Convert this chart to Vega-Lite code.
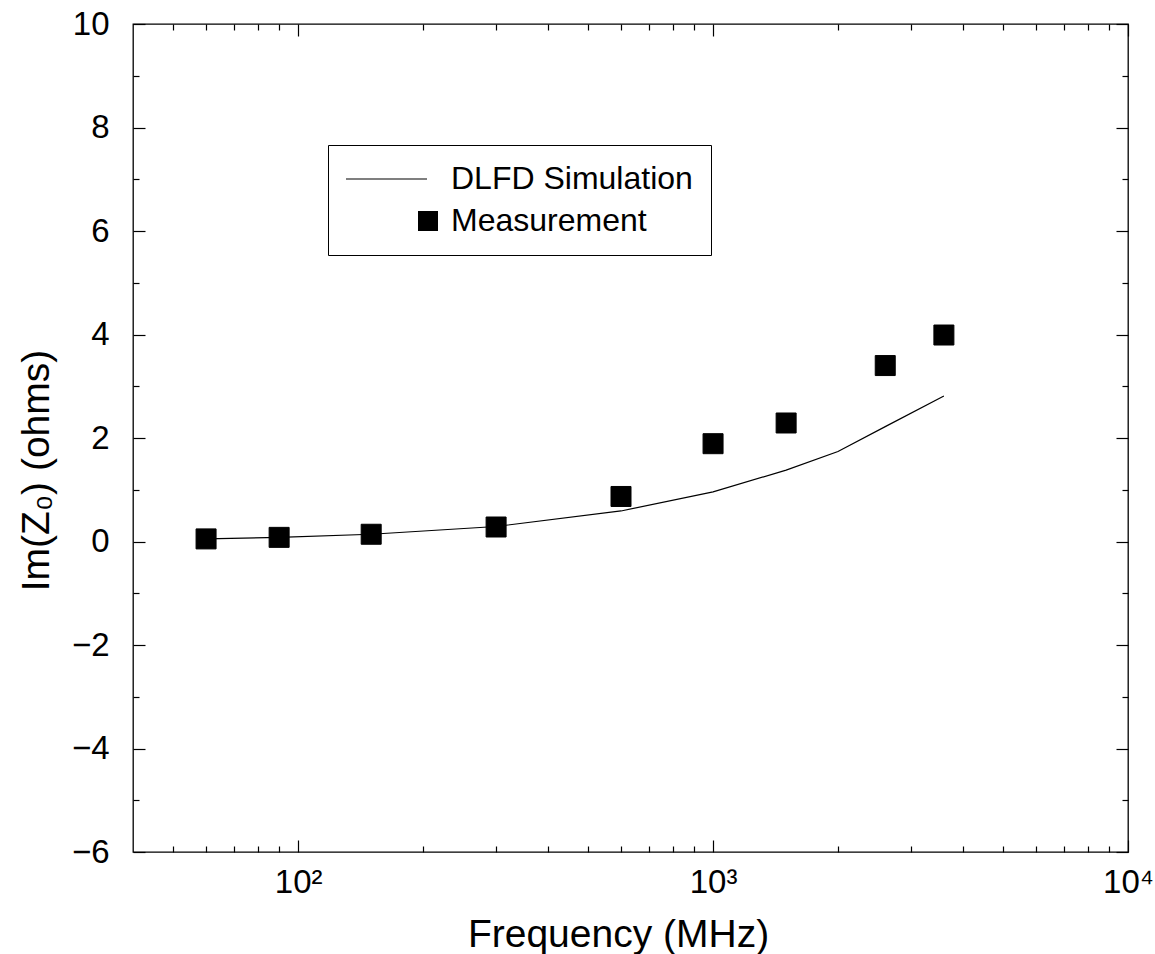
{
  "$schema": "https://vega.github.io/schema/vega-lite/v6.json",
  "width": 995,
  "height": 828,
  "autosize": "none",
  "padding": {"left": 133, "top": 24, "right": 27, "bottom": 102},
  "background": "white",
  "config": {
    "font": "Liberation Sans",
    "view": {"stroke": "black", "strokeWidth": 1.3},
    "axis": {
      "grid": false,
      "domain": false,
      "tickColor": "black",
      "tickWidth": 1.2,
      "labelFont": "Liberation Sans",
      "labelFontSize": 33,
      "labelColor": "black",
      "labelFlush": false,
      "labelOverlap": false,
      "titleFont": "Liberation Sans",
      "titleFontSize": 39,
      "titleFontWeight": "normal",
      "titleColor": "black"
    }
  },
  "datasets": {
    "sim": [
      {"freq": 60, "im": 0.05, "series": "DLFD Simulation"},
      {"freq": 90, "im": 0.08, "series": "DLFD Simulation"},
      {"freq": 150, "im": 0.14, "series": "DLFD Simulation"},
      {"freq": 300, "im": 0.29, "series": "DLFD Simulation"},
      {"freq": 600, "im": 0.59, "series": "DLFD Simulation"},
      {"freq": 1000, "im": 0.96, "series": "DLFD Simulation"},
      {"freq": 1500, "im": 1.38, "series": "DLFD Simulation"},
      {"freq": 2000, "im": 1.74, "series": "DLFD Simulation"},
      {"freq": 2600, "im": 2.22, "series": "DLFD Simulation"},
      {"freq": 3600, "im": 2.81, "series": "DLFD Simulation"}
    ],
    "meas": [
      {"freq": 60, "im": 0.05, "series": "Measurement"},
      {"freq": 90, "im": 0.08, "series": "Measurement"},
      {"freq": 150, "im": 0.14, "series": "Measurement"},
      {"freq": 300, "im": 0.28, "series": "Measurement"},
      {"freq": 600, "im": 0.87, "series": "Measurement"},
      {"freq": 1000, "im": 1.89, "series": "Measurement"},
      {"freq": 1500, "im": 2.29, "series": "Measurement"},
      {"freq": 2600, "im": 3.4, "series": "Measurement"},
      {"freq": 3600, "im": 3.99, "series": "Measurement"}
    ]
  },
  "layer": [
    {
      "data": {"name": "sim"},
      "mark": {"type": "line", "color": "black", "strokeWidth": 1.2},
      "encoding": {
        "x": {
          "field": "freq", "type": "quantitative",
          "scale": {"type": "log", "domain": [40, 10000], "nice": false},
          "axis": {
            "orient": "bottom",
            "values": [100, 1000, 10000],
            "tickSize": -12,
            "labelPadding": 52,
            "labelBaseline": "alphabetic",
            "labelExpr": "datum.value == 100 ? '10²' : datum.value == 1000 ? '10³' : '10⁴'",
            "title": "Frequency (MHz)",
            "titleX": 485,
            "titleY": 94,
            "titleAlign": "center",
            "titleBaseline": "alphabetic"
          }
        },
        "y": {
          "field": "im", "type": "quantitative",
          "scale": {"domain": [-6, 10], "nice": false, "zero": false},
          "axis": {
            "orient": "left",
            "values": [-6, -4, -2, 0, 2, 4, 6, 8, 10],
            "tickSize": -12,
            "labelPadding": 36,
            "title": "Im(Z₀) (ohms)",
            "titleX": -97,
            "titleY": 446,
            "titleAngle": -90,
            "titleAlign": "center",
            "titleBaseline": "middle"
          }
        }
      }
    },
    {
      "data": {"name": "meas"},
      "mark": {"type": "point", "filled": true, "size": 400, "color": "black", "opacity": 1, "strokeWidth": 1, "stroke": "black"},
      "encoding": {
        "x": {
          "field": "freq", "type": "quantitative",
          "scale": {"type": "log", "domain": [40, 10000], "nice": false},
          "axis": {
            "orient": "bottom",
            "values": [50, 60, 70, 80, 90, 200, 300, 400, 500, 600, 700, 800, 900, 2000, 3000, 4000, 5000, 6000, 7000, 8000, 9000],
            "tickSize": -6,
            "labels": false,
            "title": null
          }
        },
        "y": {
          "field": "im", "type": "quantitative",
          "scale": {"domain": [-6, 10], "nice": false, "zero": false},
          "axis": {
            "orient": "left",
            "values": [-5, -3, -1, 1, 3, 5, 7, 9],
            "tickSize": -6,
            "labels": false,
            "title": null
          }
        },
        "shape": {
          "field": "series", "type": "nominal",
          "scale": {"domain": ["DLFD Simulation", "Measurement"], "range": ["M-8.2,-0.06L-0.1,-0.06L-0.1,0.06L-8.2,0.06Z", "square"]},
          "legend": {
            "title": null,
            "orient": "none",
            "legendX": 195,
            "legendY": 121,
            "strokeColor": "black",
            "fillColor": "white",
            "padding": 18,
            "symbolSize": 400,
            "symbolFillColor": "black",
            "symbolStrokeColor": "black",
            "symbolStrokeWidth": 1,
            "symbolOpacity": 1,
            "symbolOffset": 66,
            "labelOffset": 7,
            "rowPadding": 10,
            "labelFont": "Liberation Sans",
            "labelFontSize": 32,
            "labelColor": "black",
            "labelLimit": 400,
            "encode": {
              "symbols": {
                "update": {
                  "stroke": {"value": "black"},
                  "strokeWidth": {"value": 0.4},
                  "fill": {"value": "black"},
                  "opacity": {"value": 1}
                }
              }
            }
          }
        }
      }
    },
    {
      "data": {"name": "meas"},
      "mark": {"type": "point", "opacity": 0},
      "encoding": {
        "x": {
          "field": "freq", "type": "quantitative",
          "scale": {"type": "log", "domain": [40, 10000], "nice": false},
          "axis": {"orient": "top", "values": [100, 1000, 10000], "tickSize": -12, "labels": false, "title": null}
        },
        "y": {
          "field": "im", "type": "quantitative",
          "scale": {"domain": [-6, 10], "nice": false, "zero": false},
          "axis": {"orient": "right", "values": [-6, -4, -2, 0, 2, 4, 6, 8, 10], "tickSize": -12, "labels": false, "title": null}
        }
      }
    },
    {
      "data": {"name": "meas"},
      "mark": {"type": "point", "opacity": 0},
      "encoding": {
        "x": {
          "field": "freq", "type": "quantitative",
          "scale": {"type": "log", "domain": [40, 10000], "nice": false},
          "axis": {
            "orient": "top",
            "values": [50, 60, 70, 80, 90, 200, 300, 400, 500, 600, 700, 800, 900, 2000, 3000, 4000, 5000, 6000, 7000, 8000, 9000],
            "tickSize": -6, "labels": false, "title": null
          }
        },
        "y": {
          "field": "im", "type": "quantitative",
          "scale": {"domain": [-6, 10], "nice": false, "zero": false},
          "axis": {"orient": "right", "values": [-5, -3, -1, 1, 3, 5, 7, 9], "tickSize": -6, "labels": false, "title": null}
        }
      }
    }
  ],
  "resolve": {"axis": {"x": "independent", "y": "independent"}}
}
